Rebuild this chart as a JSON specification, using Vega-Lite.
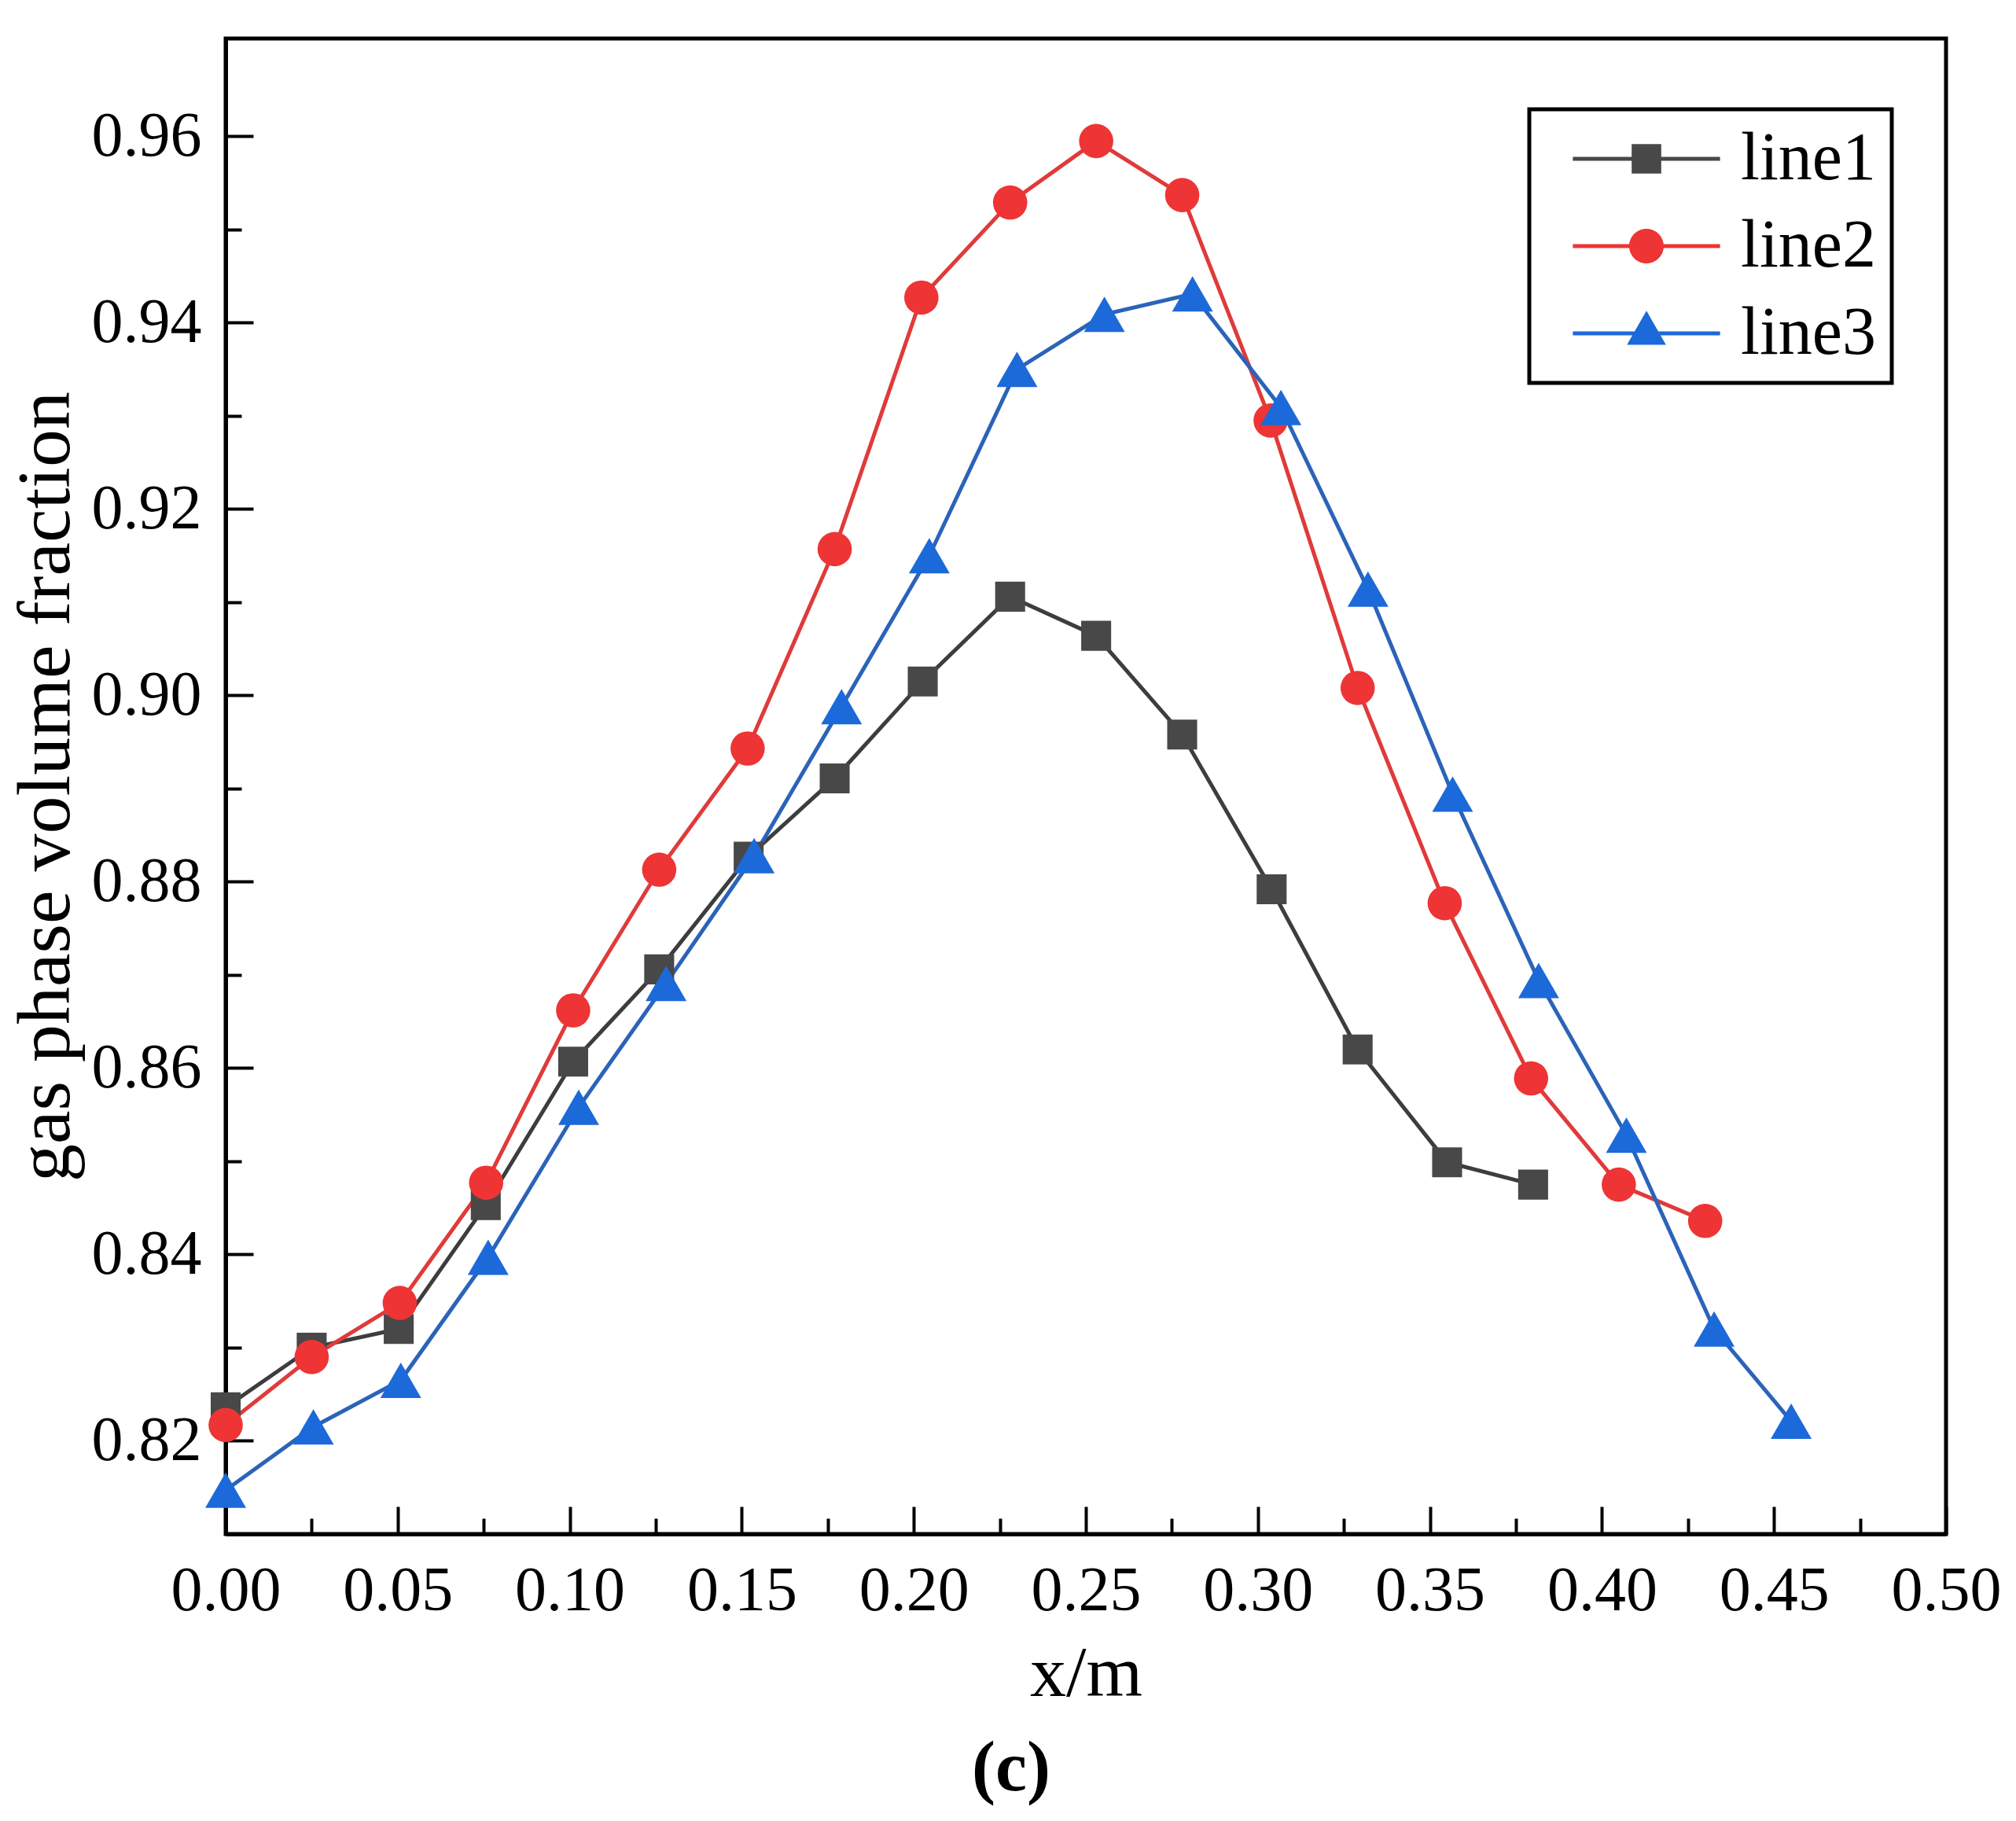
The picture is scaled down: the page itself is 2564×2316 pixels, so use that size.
{
  "$schema": "https://vega.github.io/schema/vega-lite/v6.json",
  "description": "Gas phase volume fraction along x for three lines.",
  "autosize": {"type": "none"},
  "width": 2188,
  "height": 1902,
  "padding": {"left": 287, "top": 49, "right": 89, "bottom": 365},
  "background": "white",
  "title": {
    "text": "(c)",
    "orient": "bottom",
    "font": "Liberation Serif",
    "fontSize": 90,
    "fontWeight": "bold",
    "color": "black",
    "dx": -95,
    "offset": 32
  },
  "data": {
    "values": [
      {"series": "line1", "x": 0.0, "y": 0.8236},
      {"series": "line1", "x": 0.025, "y": 0.8300},
      {"series": "line1", "x": 0.0503, "y": 0.8320},
      {"series": "line1", "x": 0.0756, "y": 0.8453},
      {"series": "line1", "x": 0.101, "y": 0.8607},
      {"series": "line1", "x": 0.126, "y": 0.8706},
      {"series": "line1", "x": 0.152, "y": 0.8827},
      {"series": "line1", "x": 0.177, "y": 0.8911},
      {"series": "line1", "x": 0.2026, "y": 0.9015},
      {"series": "line1", "x": 0.228, "y": 0.9106},
      {"series": "line1", "x": 0.253, "y": 0.9064},
      {"series": "line1", "x": 0.278, "y": 0.8958},
      {"series": "line1", "x": 0.304, "y": 0.8792},
      {"series": "line1", "x": 0.329, "y": 0.8620},
      {"series": "line1", "x": 0.355, "y": 0.8499},
      {"series": "line1", "x": 0.380, "y": 0.8475},
      {"series": "line2", "x": 0.0, "y": 0.8217},
      {"series": "line2", "x": 0.025, "y": 0.8290},
      {"series": "line2", "x": 0.0506, "y": 0.8348},
      {"series": "line2", "x": 0.0757, "y": 0.8477},
      {"series": "line2", "x": 0.101, "y": 0.8662},
      {"series": "line2", "x": 0.126, "y": 0.8813},
      {"series": "line2", "x": 0.1517, "y": 0.8943},
      {"series": "line2", "x": 0.177, "y": 0.9157},
      {"series": "line2", "x": 0.2022, "y": 0.9427},
      {"series": "line2", "x": 0.228, "y": 0.9529},
      {"series": "line2", "x": 0.253, "y": 0.9595},
      {"series": "line2", "x": 0.278, "y": 0.9537},
      {"series": "line2", "x": 0.3037, "y": 0.9295},
      {"series": "line2", "x": 0.329, "y": 0.9008},
      {"series": "line2", "x": 0.3543, "y": 0.8777},
      {"series": "line2", "x": 0.3794, "y": 0.8589},
      {"series": "line2", "x": 0.4049, "y": 0.8475},
      {"series": "line2", "x": 0.430, "y": 0.8436},
      {"series": "line3", "x": 0.0, "y": 0.8147},
      {"series": "line3", "x": 0.0255, "y": 0.8215},
      {"series": "line3", "x": 0.0509, "y": 0.8265},
      {"series": "line3", "x": 0.0763, "y": 0.8397},
      {"series": "line3", "x": 0.1026, "y": 0.8558},
      {"series": "line3", "x": 0.128, "y": 0.8691},
      {"series": "line3", "x": 0.1536, "y": 0.8828},
      {"series": "line3", "x": 0.179, "y": 0.8988},
      {"series": "line3", "x": 0.2045, "y": 0.9150},
      {"series": "line3", "x": 0.230, "y": 0.9350},
      {"series": "line3", "x": 0.2554, "y": 0.9409},
      {"series": "line3", "x": 0.281, "y": 0.9431},
      {"series": "line3", "x": 0.3067, "y": 0.9309},
      {"series": "line3", "x": 0.332, "y": 0.9114},
      {"series": "line3", "x": 0.3566, "y": 0.8894},
      {"series": "line3", "x": 0.3816, "y": 0.8694},
      {"series": "line3", "x": 0.4071, "y": 0.8528},
      {"series": "line3", "x": 0.4326, "y": 0.8320},
      {"series": "line3", "x": 0.455, "y": 0.8221}
    ]
  },
  "encoding": {
    "x": {
      "field": "x",
      "type": "quantitative",
      "title": "x/m",
      "scale": {"domain": [0, 0.5], "nice": false, "zero": false},
      "axis": {
        "values": [0, 0.025, 0.05, 0.075, 0.1, 0.125, 0.15, 0.175, 0.2, 0.225, 0.25, 0.275, 0.3, 0.325, 0.35, 0.375, 0.4, 0.425, 0.45, 0.475, 0.5],
        "labelExpr": "abs(datum.value * 20 - round(datum.value * 20)) < 0.001 ? format(datum.value, '.2f') : ''",
        "tickSize": {
          "condition": {"test": "abs(datum.value * 20 - round(datum.value * 20)) < 0.001", "value": -35},
          "value": -20
        },
        "labelPadding": 68,
        "titlePadding": 5
      }
    },
    "y": {
      "field": "y",
      "type": "quantitative",
      "title": "gas phase volume fraction",
      "scale": {"domain": [0.81, 0.9705], "nice": false, "zero": false},
      "axis": {
        "values": [0.81, 0.82, 0.83, 0.84, 0.85, 0.86, 0.87, 0.88, 0.89, 0.9, 0.91, 0.92, 0.93, 0.94, 0.95, 0.96],
        "labelExpr": "abs(datum.value * 50 - round(datum.value * 50)) < 0.001 ? format(datum.value, '.2f') : ''",
        "tickSize": {
          "condition": {"test": "abs(datum.value * 50 - round(datum.value * 50)) < 0.001", "value": -35},
          "value": -20
        },
        "labelPadding": 66,
        "titlePadding": 9,
        "titleFontSize": 96
      }
    }
  },
  "layer": [
    {
      "mark": {"type": "line", "strokeWidth": 5},
      "encoding": {
        "color": {
          "field": "series",
          "type": "nominal",
          "scale": {"domain": ["line1", "line2", "line3"], "range": ["#3d3d3d", "#e03a3a", "#2b63b8"]},
          "legend": {
            "title": null,
            "orient": "none",
            "legendX": 1658,
            "legendY": 90,
            "padding": 20,
            "rowPadding": 25,
            "symbolSize": 6400,
            "symbolOffset": 86,
            "labelOffset": 77,
            "labelFont": "Liberation Serif",
            "labelFontSize": 86,
            "labelColor": "black",
            "labelLimit": 400,
            "strokeColor": "black",
            "encode": {
              "legend": {"update": {"strokeWidth": {"value": 5}}},
              "symbols": {
                "update": {
                  "shape": {"signal": "datum.value === 'line1' ? 'M-2.34,-0.06H2.34V0.06H-2.34ZM-0.47,-0.47H0.47V0.47H-0.47Z' : datum.value === 'line2' ? 'M-2.34,-0.06H2.34V0.06H-2.34ZM-0.55,0A0.55,0.55 0 1,1 0.55,0A0.55,0.55 0 1,1 -0.55,0Z' : 'M-2.34,-0.06H2.34V0.06H-2.34ZM0,-0.72L0.62,0.36L-0.62,0.36Z'"},
                  "fill": {"signal": "datum.value === 'line1' ? '#484848' : datum.value === 'line2' ? '#ee3434' : '#1c69d9'"},
                  "stroke": {"value": "transparent"},
                  "strokeWidth": {"value": 0},
                  "opacity": {"value": 1},
                  "fillOpacity": {"value": 1}
                }
              }
            }
          }
        }
      }
    },
    {
      "transform": [{"filter": "datum.series === 'line1'"}],
      "mark": {"type": "point", "shape": "square", "size": 1450, "filled": true, "opacity": 1, "color": "#484848"}
    },
    {
      "transform": [{"filter": "datum.series === 'line2'"}],
      "mark": {"type": "point", "shape": "circle", "size": 1900, "filled": true, "opacity": 1, "color": "#ee3434"}
    },
    {
      "transform": [{"filter": "datum.series === 'line3'"}],
      "mark": {"type": "point", "shape": "triangle-up", "size": 2700, "filled": true, "opacity": 1, "color": "#1c69d9"}
    }
  ],
  "config": {
    "view": {"stroke": "black", "strokeWidth": 5},
    "axis": {
      "grid": false,
      "domainColor": "black",
      "domainWidth": 5,
      "tickColor": "black",
      "tickWidth": 4,
      "labelFont": "Liberation Serif",
      "labelFontSize": 80,
      "labelColor": "black",
      "labelOverlap": false,
      "labelFlush": false,
      "titleFont": "Liberation Serif",
      "titleFontSize": 92,
      "titleFontWeight": "normal",
      "titleColor": "black"
    }
  }
}
